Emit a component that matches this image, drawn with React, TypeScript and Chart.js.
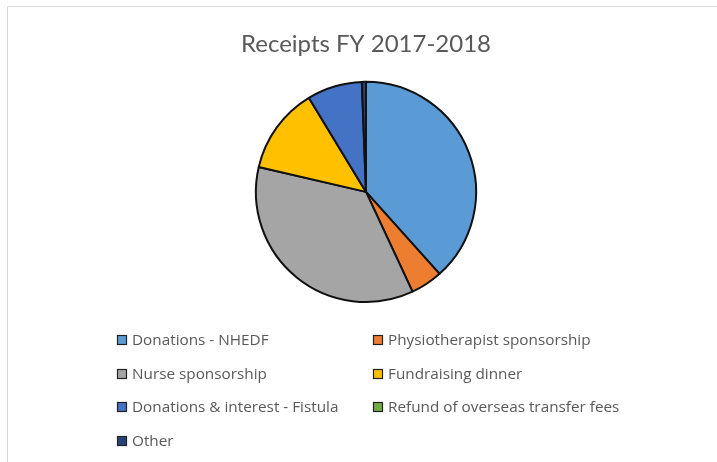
import React, { useEffect, useRef } from "react";
import { Chart, registerables } from "chart.js";

Chart.register(...registerables);

const categories: string[] = [
  "Donations - NHEDF",
  "Physiotherapist sponsorship",
  "Nurse sponsorship",
  "Fundraising dinner",
  "Donations & interest - Fistula",
  "Refund of overseas transfer fees",
  "Other",
];
const shares: number[] = [38.4, 4.7, 35.6, 12.7, 8.1, 0, 0.6];
const colors: string[] = ["#5B9BD5", "#ED7D31", "#A5A5A5", "#FFC000", "#4472C4", "#70AD47", "#264478"];
const titleText = "Receipts FY 2017-2018";

const FONT = "Lato, 'Open Sans', sans-serif";
const LEGEND_FONT = "'Open Sans', Lato, sans-serif";
const TEXT = "#595959";

const legendPlugin = {
  id: "gridLegend",
  afterDraw(chart: any) {
    const ctx = chart.ctx as CanvasRenderingContext2D;
    const colX = [117, 373];
    const rowY = [340, 374, 407, 441];
    ctx.save();
    ctx.font = `15.3px ${LEGEND_FONT}`;
    ctx.textBaseline = "middle";
    categories.forEach((label, i) => {
      const x = colX[i % 2];
      const y = rowY[Math.floor(i / 2)];
      ctx.fillStyle = colors[i];
      ctx.fillRect(x, y - 5, 10, 10);
      ctx.strokeStyle = "#222";
      ctx.lineWidth = 1.2;
      ctx.strokeRect(x + 0.5, y - 4.5, 9, 9);
      ctx.fillStyle = TEXT;
      ctx.fillText(label, x + 15, y + 1);
    });
    ctx.restore();
  },
};

export default function App() {
  const ref = useRef<HTMLCanvasElement | null>(null);
  useEffect(() => {
    if (!ref.current) return;
    const chart = new Chart(ref.current, {
      type: "pie",
      data: {
        labels: categories,
        datasets: [
          {
            data: shares,
            backgroundColor: colors,
            borderColor: "#111",
            borderWidth: 2,
          },
        ],
      },
      options: {
        animation: false,
        responsive: false,
        maintainAspectRatio: false,
        layout: { padding: { top: 0, left: 15, right: 0, bottom: 159 } },
        plugins: {
          legend: { display: false },
          tooltip: { enabled: false },
          title: {
            display: true,
            text: titleText,
            color: TEXT,
            font: { family: FONT, size: 24, weight: "normal" },
            padding: { top: 30, bottom: 22 },
          },
        },
      },
      plugins: [legendPlugin],
    });
    return () => chart.destroy();
  }, []);
  return (
    <div style={{ position: "fixed", left: 0, top: 0, width: 717, height: 462, background: "#fff" }}>
      <div
        style={{
          position: "absolute",
          left: 7,
          top: 6,
          right: 0,
          bottom: 0,
          borderLeft: "1px solid #d9d9d9",
          borderTop: "1px solid #d9d9d9",
        }}
      />
      <canvas ref={ref} width={717} height={462} style={{ position: "absolute", left: 0, top: 0 }} />
    </div>
  );
}
